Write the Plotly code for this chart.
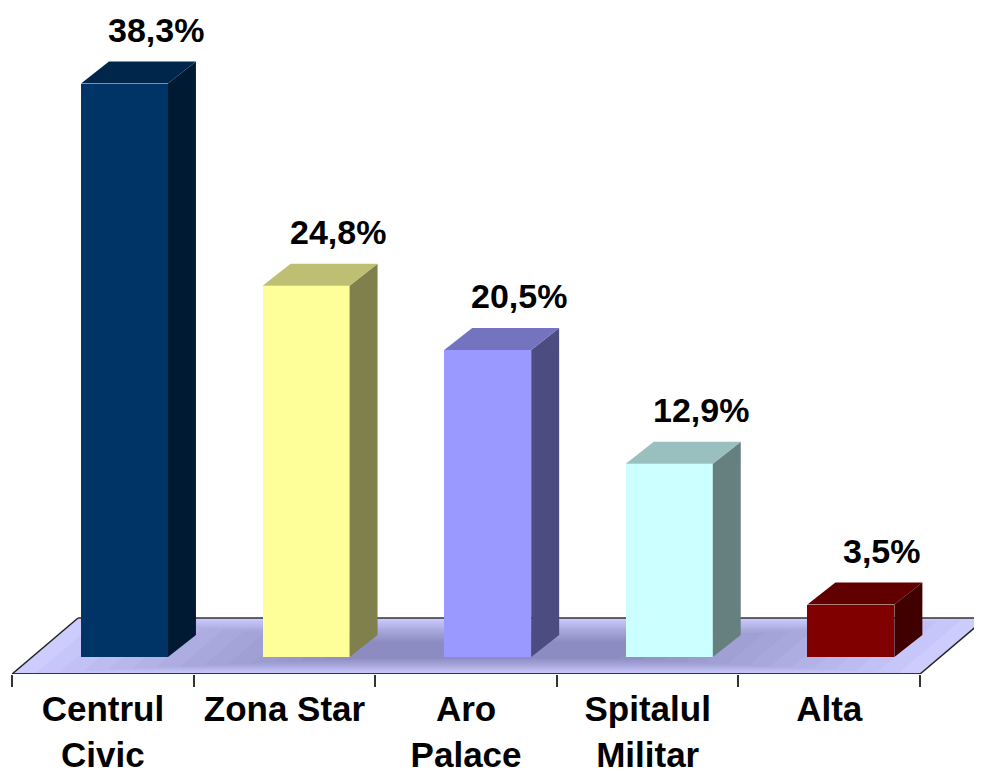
import plotly.graph_objects as go

categories = ["Centrul<br>Civic", "Zona Star", "Aro<br>Palace", "Spitalul<br>Militar", "Alta"]
values = [38.3, 24.8, 20.5, 12.9, 3.5]
front_colors = ["#003366", "#FFFF99", "#9999FF", "#CCFFFF", "#800000"]

# --- styling / geometry constants (not data) ---
BAR_W = 0.479          # front face width in category units
DX, DY = 0.154, 1.47   # bar depth vector (category units, % units)
FX0, FY0 = -0.119, -1.136   # floor front edge offset
FX1, FY1 = 0.244, 2.605     # floor back edge offset
XR = [-0.6415, 4.766]
YR = [-1.136, 43.35]
FONT = "Liberation Sans, Arial, sans-serif"


def scale(hexcol, f):
    h = hexcol.lstrip("#")
    r, g, b = (int(h[i:i + 2], 16) for i in (0, 2, 4))
    return "rgb(%d,%d,%d)" % (round(r * f), round(g * f), round(b * f))


n = len(categories)
xs = list(range(n))

fig = go.Figure()

# front faces
fig.add_trace(go.Bar(x=xs, y=values, width=BAR_W, marker=dict(color=front_colors, line=dict(width=0)),
                     hoverinfo="skip", showlegend=False))

# top and side faces
for i, v in enumerate(values):
    x0, x1 = i - BAR_W / 2, i + BAR_W / 2
    side_x = [x1, x1 + DX, x1 + DX, x1, x1]
    side_y = [0, DY, v + DY, v, 0]
    fig.add_trace(go.Scatter(x=side_x, y=side_y, fill="toself", mode="lines",
                             line=dict(width=0, color=scale(front_colors[i], 0.5)),
                             fillcolor=scale(front_colors[i], 0.5), hoverinfo="skip", showlegend=False))
    top_x = [x0, x0 + DX, x1 + DX, x1, x0]
    top_y = [v, v + DY, v + DY, v, v]
    fig.add_trace(go.Scatter(x=top_x, y=top_y, fill="toself", mode="lines",
                             line=dict(width=0, color=scale(front_colors[i], 0.75)),
                             fillcolor=scale(front_colors[i], 0.75), hoverinfo="skip", showlegend=False))


def fpt(x, s):
    return (x + FX0 + s * (FX1 - FX0), FY0 + s * (FY1 - FY0))


def para(xa, xb, sa, sb):
    pts = [fpt(xa, sa), fpt(xb, sa), fpt(xb, sb), fpt(xa, sb)]
    return "M " + " L ".join("%f,%f" % p for p in pts) + " Z"


shapes = []
left, right = -0.5, n - 0.5
shapes.append(dict(type="path", path=para(left, right, 0, 1), xref="x", yref="y",
                   fillcolor="#CCCCFF", line=dict(width=0), layer="below"))
for k in range(1, 15):
    shapes.append(dict(type="path", path=para(left + 0.125 * k, right - 0.125 * k, 0.02 * k, 1 - 0.03 * k),
                       xref="x", yref="y", fillcolor="rgba(60,60,110,0.037)", line=dict(width=0), layer="below"))
# outline
for (a, sa, b, sb, col) in [(left, 0, right, 0, "#000000"), (left, 0, left, 1, "#222222"),
                            (left, 1, right, 1, "#333333"), (right, 0, right, 1, "#222222")]:
    p0, p1 = fpt(a, sa), fpt(b, sb)
    shapes.append(dict(type="line", x0=p0[0], y0=p0[1], x1=p1[0], y1=p1[1], xref="x", yref="y",
                       line=dict(color=col, width=1.5), layer="below"))

annotations = []
for i, v in enumerate(values):
    annotations.append(dict(x=i + DX + 0.02, y=v + DY, xref="x", yref="y", yanchor="bottom",
                            text=("%.1f" % v).replace(".", ",") + "%", showarrow=False, yshift=11,
                            font=dict(family=FONT, size=34, color="black", weight="bold")))

fig.update_layout(
    width=982, height=774,
    margin=dict(l=0, r=0, t=0, b=108, pad=0),
    paper_bgcolor="white", plot_bgcolor="white",
    shapes=shapes, annotations=annotations,
    xaxis=dict(range=XR, showgrid=False, zeroline=False, showline=False,
               tickvals=[i + FX0 for i in xs], ticktext=categories, ticks="",
               ticklabelstandoff=11,
               tickfont=dict(family=FONT, size=35, color="black", weight="bold"),
               minor=dict(tickvals=[k - 0.5 + FX0 for k in range(n + 1)], ticks="outside",
                          ticklen=12, tickcolor="#333333", tickwidth=1.5, showgrid=False),
               fixedrange=True, automargin=False),
    yaxis=dict(range=YR, visible=False, fixedrange=True),
    bargap=0,
)

fig.write_html("out.html")
